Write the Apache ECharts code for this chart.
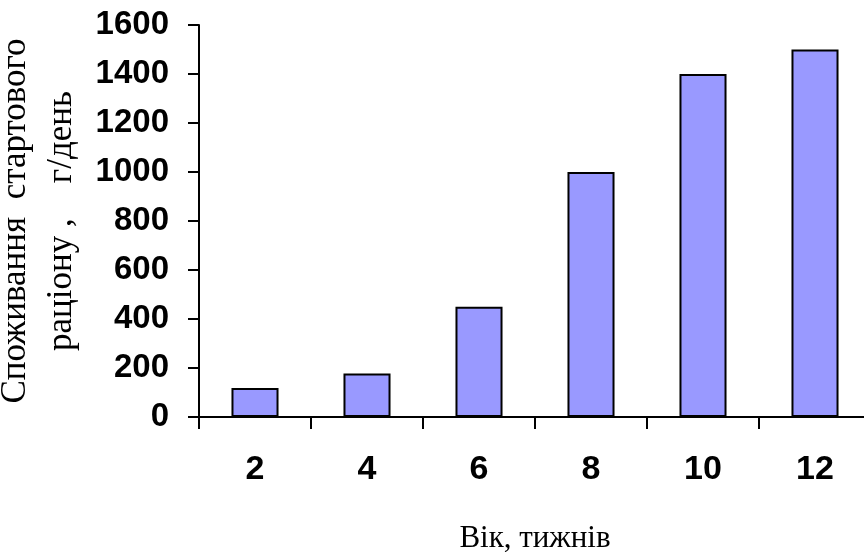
<!DOCTYPE html>
<html>
<head>
<meta charset="utf-8">
<script src="https://cdn.jsdelivr.net/npm/echarts@6/dist/echarts.min.js"></script>
<style>html,body{margin:0;padding:0;background:#fff}#c{width:864px;height:552px}</style>
</head>
<body>
<div id="c"></div>
<script>
const categories = ['2', '4', '6', '8', '10', '12'];
const values = [118, 178, 450, 1000, 1400, 1500];
const yTicks = { min: 0, max: 1600, interval: 200 };
const xTitle = 'Вік, тижнів';
const yTitle = 'Споживання  стартового\nраціону ,    г/день';

const chart = echarts.init(document.getElementById('c'), null, { renderer: 'canvas' });
chart.setOption({
  backgroundColor: '#ffffff',
  animation: false,
  grid: { left: 199, right: -7, top: 25, bottom: 135, containLabel: false, outerBoundsMode: 'none' },
  xAxis: {
    type: 'category',
    data: categories,
    name: xTitle,
    nameLocation: 'middle',
    nameGap: 106,
    nameTextStyle: { fontFamily: 'Liberation Serif', fontSize: 31, color: '#000' },
    axisLine: { lineStyle: { color: '#000', width: 2 } },
    axisTick: { show: true, inside: false, length: 12, lineStyle: { color: '#000', width: 2 }, alignWithLabel: false },
    axisLabel: { margin: 36, fontFamily: 'Liberation Sans', fontWeight: 'bold', fontSize: 34, color: '#000' }
  },
  yAxis: {
    type: 'value',
    min: yTicks.min, max: yTicks.max, interval: yTicks.interval,
    name: yTitle,
    nameLocation: 'middle',
    nameRotate: 90,
    nameGap: 89,
    nameTextStyle: { fontFamily: 'Liberation Serif', fontSize: 35, color: '#000', lineHeight: 46, align: 'center' },
    axisLine: { show: true, lineStyle: { color: '#000', width: 2 } },
    axisTick: { show: true, inside: false, length: 11, lineStyle: { color: '#000', width: 2 } },
    splitLine: { show: false },
    axisLabel: { margin: 30, fontFamily: 'Liberation Sans', fontWeight: 'bold', fontSize: 33, color: '#000',
      formatter: function (v) { return String(v); } }
  },
  series: [{
    type: 'bar',
    data: values,
    barWidth: '42%',
    itemStyle: { color: '#9999FF', borderColor: '#000', borderWidth: 2 }
  }]
});
</script>
</body>
</html>
